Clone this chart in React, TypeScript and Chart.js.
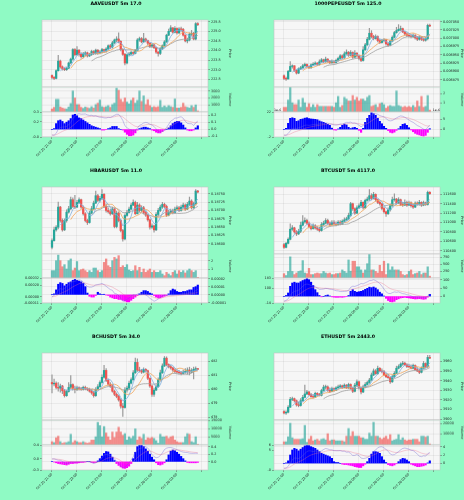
import React, { useEffect, useRef } from 'react';
import { Chart, registerables } from 'chart.js';

Chart.register(...registerables);

// ---------------- data ----------------
const X_TICKS = [0, 12, 24, 36, 48, 60, 72];
const X_LABELS = ['Oct 25 21:00', 'Oct 25 22:00', 'Oct 25 23:00', 'Oct 26 00:00', 'Oct 26 01:00', 'Oct 26 02:00', ''];
const MA_PERIODS = [5, 10, 20];

const AAVE_TITLE = 'AAVEUSDT 5m 17.0';
const AAVE_OPEN0 = 222.70;
const AAVE_CLOSE = [222.60,222.55,222.95,223.45,223.15,223.05,223.00,223.08,223.35,223.55,
224.05,223.78,224.02,223.80,223.68,223.82,223.88,223.72,223.80,223.95,
223.84,224.02,223.88,223.92,224.05,223.98,224.08,224.25,224.18,224.40,
224.55,224.60,224.48,224.05,223.80,223.35,223.78,223.82,223.90,223.85,
224.00,224.55,224.62,224.45,224.60,224.52,224.38,224.20,224.30,224.15,
223.92,223.85,224.10,224.25,224.45,224.80,225.00,225.18,224.95,225.15,
224.92,225.12,225.10,224.80,224.50,224.55,224.85,224.90,224.60,225.40,225.35];
const AAVE_HIGH = [222.74,222.64,223.00,223.75,223.50,223.20,223.10,223.12,223.40,223.60,
224.10,224.10,224.20,224.05,223.88,223.90,223.95,223.92,223.86,224.02,
224.00,224.08,224.05,224.00,224.12,224.08,224.15,224.30,224.32,224.48,
224.60,224.72,224.92,224.52,224.10,223.85,223.82,223.90,223.98,223.95,
224.05,224.62,224.70,224.68,224.90,224.65,224.55,224.42,224.35,224.32,
224.18,223.95,224.15,224.30,224.52,224.85,225.12,225.30,225.20,225.25,
225.18,225.20,225.22,225.15,224.82,224.65,224.92,225.05,224.95,225.45,225.45];
const AAVE_LOW = [222.52,222.48,222.52,222.92,223.08,222.98,222.95,222.96,223.05,223.30,
223.50,223.72,223.75,223.70,223.60,223.62,223.72,223.66,223.68,223.74,
223.78,223.80,223.80,223.82,223.86,223.90,223.92,224.02,224.10,224.12,
224.35,224.45,224.40,223.98,223.75,223.25,223.30,223.70,223.78,223.78,
223.82,223.98,224.48,224.40,224.42,224.45,224.30,224.15,224.15,224.10,
223.85,223.70,223.78,224.05,224.22,224.42,224.78,224.98,224.90,224.92,
224.85,224.88,225.00,224.75,224.45,224.40,224.50,224.78,224.55,224.55,225.30];
const AAVE_VOL = [420,650,1800,1800,700,550,450,420,700,1200,
3000,2000,1050,1050,650,500,700,600,500,750,
550,1050,1250,1700,750,650,750,900,650,1050,
1250,3400,3100,1800,1400,2000,1400,1150,1650,2000,
1250,1650,3000,1500,2300,1050,1750,900,650,750,
650,750,1650,650,850,650,900,750,650,1850,
550,550,650,1250,750,650,550,900,650,1000,150];
const AAVE_HIST = [0,0.01,0.08,0.12,0.13,0.11,0.08,0.10,0.12,0.15,
0.20,0.21,0.19,0.16,0.15,0.13,0.11,0.09,0.07,0.05,
0.04,0.03,0.02,0.01,-0.01,-0.01,-0.005,0.01,0.02,0.04,
0.04,0.04,0.01,0.0,-0.01,-0.04,-0.07,-0.09,-0.09,-0.08,
-0.05,-0.01,0.01,0.02,0.03,0.03,0.02,0.01,-0.01,-0.02,
-0.04,-0.05,-0.05,-0.03,-0.01,0.0,0.02,0.05,0.08,0.10,
0.11,0.11,0.09,0.06,0.02,-0.01,-0.02,-0.02,-0.01,0.02,0.05];

// 1000PEPE prices in units of 1e-6, volume in 1e7, MACD in 1e-6
const PEPE_TITLE = '1000PEPEUSDT 5m 125.0';
const PEPE_OPEN0 = 6887;
const PEPE_CLOSE = [6879,6877,6900,6915,6917,6903,6895,6908,6911,6917,
6921,6915,6911,6920,6922,6925,6921,6929,6935,6929,
6937,6931,6926,6931,6927,6933,6939,6947,6941,6953,
6958,6949,6957,6943,6955,6947,6939,6933,6965,6980,
6997,7015,7005,6999,7005,6993,6987,6993,6995,6983,
6979,6991,7003,7017,7023,7027,7029,7019,7013,7009,
7007,7005,7009,7001,6997,7003,6997,6994,6999,7039,7037];
const PEPE_HIGH = [6890,6883,6903,6930,6920,6917,6905,6911,6915,6921,
6925,6923,6917,6923,6927,6929,6927,6935,6939,6937,
6943,6939,6933,6935,6933,6937,6943,6951,6950,6959,
6965,6960,6963,6959,6963,6957,6949,6943,6975,6985,
7003,7030,7023,7009,7010,7007,6997,6997,6999,6997,
6987,6995,7007,7021,7033,7041,7037,7031,7021,7017,
7015,7011,7013,7011,7005,7007,7005,7001,7003,7043,7043];
const PEPE_LOW = [6875,6873,6877,6899,6910,6900,6892,6893,6905,6909,
6915,6912,6908,6909,6917,6920,6918,6919,6927,6926,
6927,6927,6923,6924,6925,6925,6931,6937,6938,6939,
6951,6945,6947,6939,6941,6943,6935,6929,6931,6963,
6978,6995,7001,6995,6997,6989,6984,6985,6989,6979,
6975,6977,6989,7001,7015,7021,7023,7017,7009,7005,
7003,7001,7002,6997,6993,6994,6993,6991,6991,6995,7035];
const PEPE_VOL = [0.5,0.5,1.3,2.7,1.0,0.8,0.8,1.3,0.5,1.5,
1.0,0.5,0.9,0.5,0.8,0.5,0.8,0.6,0.6,0.6,
0.6,0.6,0.6,0.6,0.5,1.0,1.7,0.5,0.7,1.6,
1.4,1.2,1.2,1.8,1.3,1.6,1.2,1.4,1.4,1.2,
1.6,1.8,0.6,0.7,0.8,0.5,0.9,1.0,0.8,0.4,
0.6,0.7,0.6,0.6,2.3,0.7,0.6,0.5,0.6,0.5,
0.6,0.5,0.7,0.5,1.2,0.6,1.7,0.5,0.6,1.8,0.2];
const PEPE_HIST = [0,0.5,3.0,5.5,5.8,5.5,4.0,4.3,5.0,5.2,
5.6,5.8,5.4,5.2,5.1,5.0,4.8,4.2,3.8,3.5,
3.0,2.5,2.0,0.6,-0.3,-0.4,0.2,1.0,2.0,2.6,
2.2,1.0,0.4,0.8,1.0,0.5,-0.5,-1.5,0.5,3.5,
5.5,7.0,8.3,7.8,7.0,5.5,4.0,2.8,1.5,0.5,
-0.6,-1.5,-1.8,-1.4,-0.5,0.3,1.5,2.5,2.8,2.0,
0.8,-0.3,-1.2,-2.0,-2.5,-2.8,-3.2,-3.4,-3.0,-1.5,0.3];

// HBAR prices in units of 1e-5, volume in 1e7, MACD in 1e-5
const HBAR_TITLE = 'HBARUSDT 5m 11.0';
const HBAR_OPEN0 = 18590;
const HBAR_CLOSE = [18610,18642,18650,18710,18670,18642,18670,18695,18705,18732,
18712,18710,18724,18732,18710,18690,18670,18664,18692,18705,
18722,18744,18730,18736,18748,18712,18700,18696,18690,18704,
18652,18692,18670,18640,18615,18685,18694,18704,18716,18724,
18690,18716,18700,18708,18694,18686,18672,18650,18654,18642,
18688,18700,18710,18718,18712,18686,18694,18698,18694,18704,
18708,18700,18710,18716,18704,18718,18728,18708,18720,18758,18755];
const HBAR_HIGH = [18615,18650,18655,18725,18712,18675,18675,18702,18712,18740,
18738,18745,18730,18738,18734,18714,18694,18674,18698,18712,
18728,18758,18748,18742,18762,18750,18720,18708,18704,18710,
18708,18698,18696,18674,18644,18690,18700,18710,18722,18732,
18728,18724,18720,18714,18712,18698,18690,18674,18660,18656,
18694,18706,18716,18724,18722,18716,18700,18704,18704,18710,
18714,18712,18716,18722,18720,18724,18740,18732,18725,18762,18760];
const HBAR_LOW = [18585,18608,18638,18645,18665,18638,18640,18665,18692,18702,
18708,18705,18708,18720,18706,18686,18666,18658,18662,18690,
18702,18720,18726,18725,18732,18708,18695,18692,18686,18688,
18648,18648,18666,18636,18608,18612,18682,18692,18702,18714,
18688,18690,18696,18696,18690,18682,18668,18644,18646,18635,
18640,18684,18696,18706,18708,18682,18684,18690,18690,18692,
18700,18696,18698,18706,18700,18702,18714,18704,18706,18716,18752];
const HBAR_VOL = [0.85,0.85,2.0,2.65,2.0,1.3,1.54,1.04,2.0,2.2,
0.85,1.15,1.9,0.85,0.96,1.04,0.85,0.65,0.85,0.65,
1.15,1.15,0.85,0.65,0.85,1.8,2.2,1.42,1.23,2.0,
2.38,2.2,2.58,1.23,1.42,1.23,1.54,0.92,0.77,0.85,
1.42,0.85,1.23,0.65,1.04,0.65,0.85,1.04,0.65,0.85,
0.65,0.65,0.85,0.46,0.27,0.65,0.46,0.27,0.65,0.85,
0.46,0.85,0.65,0.85,0.58,0.85,1.04,0.85,0.65,0.85,0.08];
const HBAR_HIST = [0,0.1,0.6,1.3,1.5,1.4,1.1,1.3,1.5,1.6,
1.8,1.9,1.8,1.7,1.6,1.4,1.0,0.2,-0.2,-0.3,
-0.3,-0.1,0.3,0.1,0.0,0.05,-0.05,-0.1,-0.3,-0.4,
-0.5,-0.5,-0.6,-0.6,-0.7,-0.8,-0.9,-0.9,-0.7,-0.5,
-0.3,-0.1,0.1,0.3,0.5,0.5,0.4,0.2,0.1,-0.1,
-0.3,-0.4,-0.4,-0.3,-0.2,-0.1,0.1,0.5,0.7,0.6,
0.4,0.3,0.3,0.4,0.4,0.5,0.6,0.6,0.9,1.0,1.2];

const BTC_TITLE = 'BTCUSDT 5m 4117.0';
const BTC_OPEN0 = 110529;
const BTC_CLOSE = [110471,110557,110643,110857,110886,110800,110757,110814,110943,111014,
111043,110986,110914,110871,110929,110886,110857,110829,110957,110986,
111043,110986,110957,111007,110971,110957,111007,110971,111029,111057,
111079,111150,111400,111293,111200,111314,111357,111429,111314,111471,
111500,111571,111514,111600,111486,111429,111400,111300,111229,111186,
111271,111357,111486,111500,111414,111486,111386,111371,111429,111371,
111421,111357,111329,111414,111393,111429,111371,111421,111386,111643,111614];
const BTC_HIGH = [110557,110579,110671,110971,110936,110900,110829,110857,111007,111150,
111100,111071,111014,110943,110971,110957,110914,110900,111000,111029,
111086,111071,111014,111043,111043,111014,111043,111043,111057,111100,
111114,111200,111429,111414,111314,111357,111400,111471,111443,111500,
111543,111700,111614,111643,111614,111500,111457,111414,111329,111243,
111314,111400,111543,111614,111514,111529,111500,111429,111486,111457,
111457,111443,111386,111443,111443,111471,111443,111457,111436,111671,111657];
const BTC_LOW = [110450,110457,110543,110629,110829,110771,110721,110743,110786,110929,
110986,110957,110886,110843,110857,110857,110829,110800,110814,110936,
110971,110957,110929,110936,110943,110929,110943,110950,110957,111007,
111043,111057,111129,111257,111171,111186,111293,111329,111286,111300,
111457,111471,111486,111500,111457,111400,111371,111271,111200,111129,
111171,111243,111343,111457,111386,111400,111357,111343,111357,111343,
111357,111329,111300,111314,111371,111371,111343,111357,111364,111371,111600];
const BTC_VOL = [160,91,240,775,240,125,182,240,262,638,
182,160,353,125,125,160,182,160,160,240,
182,160,182,125,125,160,160,182,296,240,
182,661,250,615,615,410,410,296,182,296,
524,866,296,296,240,182,467,240,615,125,
524,296,410,296,296,296,240,125,91,125,
240,296,125,160,182,240,125,182,182,410,68];
const BTC_HIST = [0,5,20,60,80,85,80,80,88,95,
100,106,100,85,65,40,22,5,-3,0,
5,8,2,-3,-5,-6,-6,-5,-6,-4,
-2,5,30,40,30,25,28,30,35,42,
48,55,52,56,50,40,25,15,2,-12,
-25,-32,-34,-30,-20,-15,-10,-8,-6,-8,
-10,-12,-14,-16,-15,-14,-16,-18,-16,-5,12];

const BCH_TITLE = 'BCHUSDT 5m 34.0';
const BCH_OPEN0 = 480.47;
const BCH_CLOSE = [480.37,480.42,480.12,480.07,480.22,479.88,479.53,479.83,480.12,480.32,
480.02,479.98,480.10,480.02,479.98,480.12,480.02,479.98,479.85,479.73,
479.53,479.98,480.17,480.47,480.84,481.33,480.62,480.35,480.22,479.85,
479.63,479.48,479.23,478.79,478.69,479.93,480.07,480.42,480.67,481.16,
481.90,481.36,481.31,481.21,481.41,481.31,480.77,480.22,479.63,479.93,
480.17,480.67,481.16,481.65,482.20,481.75,481.60,481.51,481.36,481.26,
481.21,481.16,481.11,481.21,481.26,481.36,481.21,481.31,481.41,481.46,481.41];
const BCH_HIGH = [481.01,480.72,480.52,480.47,480.35,480.27,479.98,479.93,480.47,480.96,
480.37,480.22,480.22,480.17,480.12,480.22,480.22,480.10,480.07,479.98,
479.85,480.10,480.32,480.59,481.01,481.70,481.46,480.72,480.47,480.32,
479.93,479.73,479.58,479.33,478.99,480.10,480.22,480.57,480.81,481.31,
482.20,482.15,481.56,481.41,481.51,481.46,481.36,480.81,480.27,480.07,
480.32,480.81,481.36,481.80,482.32,482.30,481.80,481.70,481.56,481.46,
481.36,481.31,481.26,481.36,481.46,481.51,481.56,481.46,481.56,481.58,481.48];
const BCH_LOW = [479.73,480.22,480.02,479.85,479.78,479.68,479.43,479.48,479.78,480.02,
479.93,479.73,479.88,479.93,479.90,479.93,479.95,479.88,479.78,479.63,
479.43,479.48,479.93,480.12,480.42,480.77,480.52,480.27,480.12,479.78,
479.53,479.38,479.14,478.64,478.05,478.64,479.78,479.98,480.37,480.62,
481.11,481.26,481.21,481.11,481.16,481.21,480.67,480.12,479.48,479.48,
479.88,480.12,480.62,481.11,481.60,481.65,481.51,481.41,481.26,481.16,
481.11,481.06,481.01,481.06,481.11,481.06,481.01,481.16,480.72,481.31,481.38];
const BCH_VOL = [2000,1400,4400,5400,2000,1000,1400,1400,2000,6600,
1400,2600,2000,1400,1400,2000,1400,1000,1400,3000,
3000,5000,14000,12000,5000,11400,7400,5000,3000,8000,
4600,8000,11000,8000,6000,7000,3000,5000,4000,5400,
10000,3000,5000,4000,6600,3000,4400,4000,4600,4000,
2600,1000,6600,5000,5000,5400,4000,5000,5400,3000,
2000,1400,1400,1400,5000,7000,6600,2000,1400,5000,400];
const BCH_HIST = [0,-0.01,-0.03,-0.05,-0.06,-0.07,-0.08,-0.09,-0.07,-0.05,
-0.05,-0.04,-0.04,-0.03,-0.02,-0.02,-0.01,0.0,0.0,-0.02,
-0.03,-0.02,0.02,0.08,0.15,0.22,0.27,0.26,0.20,0.12,
0.03,-0.05,-0.10,-0.14,-0.17,-0.18,-0.16,-0.12,-0.05,0.08,
0.25,0.40,0.44,0.44,0.40,0.34,0.28,0.20,0.12,0.05,
-0.03,-0.08,-0.09,-0.07,-0.03,0.05,0.18,0.28,0.31,0.29,
0.25,0.20,0.14,0.08,0.02,-0.02,-0.03,-0.03,-0.03,-0.03,-0.02];

const ETH_TITLE = 'ETHUSDT 5m 2443.0';
const ETH_OPEN0 = 3907.8;
const ETH_CLOSE = [3906.3,3907.1,3912.3,3920.5,3921.2,3919.1,3914.8,3914.1,3919.1,3922.6,
3926.1,3928.2,3925.4,3923.3,3922.9,3926.8,3925.4,3924.7,3929.6,3933.2,
3933.5,3930.0,3928.9,3931.8,3930.0,3932.5,3933.5,3934.6,3932.8,3935.3,
3932.5,3936.0,3931.8,3928.9,3935.3,3938.8,3932.5,3928.2,3933.5,3936.0,
3938.1,3940.6,3945.9,3950.1,3947.3,3952.9,3950.1,3949.4,3945.9,3944.1,
3943.1,3938.8,3944.1,3947.6,3952.9,3954.7,3957.2,3958.2,3956.5,3954.7,
3954.4,3952.9,3955.8,3951.5,3950.1,3948.7,3952.9,3957.9,3954.7,3964.2,3963.5];
const ETH_HIGH = [3908.8,3908.5,3914.1,3922.6,3922.9,3921.9,3919.8,3917.6,3921.2,3924.7,
3935.3,3930.0,3928.9,3926.8,3925.4,3928.2,3927.5,3926.8,3931.1,3935.3,
3935.3,3934.6,3932.5,3933.2,3932.5,3933.9,3935.3,3936.0,3935.3,3936.7,
3936.0,3937.4,3936.7,3933.2,3937.1,3940.9,3939.5,3933.2,3935.3,3938.1,
3939.5,3942.3,3948.0,3952.2,3951.5,3955.1,3953.6,3952.2,3950.8,3947.6,
3946.6,3944.1,3945.9,3949.4,3955.1,3956.5,3958.6,3960.0,3959.3,3957.9,
3957.2,3956.5,3957.2,3956.5,3953.6,3952.2,3954.4,3960.0,3958.6,3966.4,3966.4];
const ETH_LOW = [3905.3,3904.9,3906.3,3912.0,3919.1,3917.6,3913.4,3912.7,3913.4,3918.3,
3921.9,3925.4,3924.7,3922.6,3921.9,3922.6,3924.0,3924.0,3924.0,3928.9,
3931.1,3928.9,3927.5,3928.2,3928.9,3929.6,3931.8,3932.5,3931.8,3932.5,
3931.8,3931.8,3931.1,3927.5,3928.2,3934.6,3931.1,3926.1,3927.5,3932.5,
3935.3,3937.1,3940.2,3945.2,3946.6,3946.6,3949.4,3948.0,3945.2,3943.1,
3942.3,3937.1,3938.1,3943.1,3947.3,3952.2,3953.6,3955.8,3955.8,3953.6,
3953.6,3952.2,3952.2,3950.8,3949.4,3947.3,3948.0,3952.2,3953.6,3953.6,3962.8];
const ETH_VOL = [2860,2860,7440,20000,6580,5150,5150,5150,5150,5720,
18000,2290,5150,8000,3720,4580,5150,3720,5150,5720,
4580,10300,3720,4580,4580,3720,3720,3720,3720,2860,
8000,15160,8000,12300,8000,8000,8000,6580,6580,5150,
5150,10870,8000,20900,8000,8000,6580,5150,6580,8000,
5150,9440,3720,4580,5150,9440,4580,6580,4580,3720,
4580,4580,5150,5150,5150,2860,8000,8000,7150,8000,860];
const ETH_HIST = [0,0.1,0.6,2.0,3.2,3.6,3.4,3.0,3.4,3.8,
4.2,4.4,4.3,4.0,3.8,3.6,3.2,2.8,2.4,2.2,
2.0,1.8,1.6,1.2,0.4,0.2,0.2,0.0,-0.2,-0.3,
-0.3,-0.4,-0.5,-0.6,-0.8,-0.9,-1.0,-1.0,-0.6,-0.2,
0.4,1.2,2.2,2.8,2.8,2.7,2.4,1.6,0.8,0.2,
-0.3,-0.5,-0.6,-0.4,-0.1,0.4,0.9,1.2,1.1,0.8,
0.4,-0.2,-0.4,-0.6,-0.8,-0.8,-0.7,-0.6,-0.4,0.1,0.6];

// ---------------- styling / layout ----------------
const FONT = 'DejaVu Sans';
const PAGE_BG = '#8ffac4';
const PLOT_BG = '#f6f6f6';
const GRID = 'rgba(0,0,0,0.10)';
const TEXT = '#222222';
const UP = '#26a69a';
const DOWN = '#ef5350';
const UP_VOL = 'rgba(38,166,154,0.65)';
const DOWN_VOL = 'rgba(239,83,80,0.65)';
const WICK = '#9a9a9a';
const MA_COLORS = ['#7fb0e0', '#f2a65a', '#a0a0a0'];
const HIST_POS = '#0000ff';
const HIST_NEG = '#ff00ff';
const MACD_COLOR = 'rgba(110,95,210,0.55)';
const SIGNAL_COLOR = 'rgba(235,110,140,0.5)';

const PANEL_W = 232;
const PANEL_H = 500 / 3;
const PLOT_L = 42;
const RAXIS_W = 24;
const TOP = 20;
const PRICE_H = 67;
const VOL_H = 24.5;
const MACD_H = 25;
const PAD = 5;
const XAXIS_H = 26;
const XMIN = -4.8;
const XMAX = 74.9;

type Fmt = (v: number) => string;
type Cfg = {
  title: string; open0: number;
  close: number[]; high: number[]; low: number[]; vol: number[]; hist: number[];
  price: { min: number; max: number; ticks: number[]; fmt: Fmt };
  volAx: { max: number; ticks: number[]; fmt: Fmt };
  histAx: { min: number; max: number; ticks: number[]; fmt: Fmt; offset?: string };
  lineAx: { fmt: Fmt; offset?: string };
};

const f0: Fmt = v => v.toFixed(0);
const f1: Fmt = v => v.toFixed(1);
const fs: Fmt = v => String(v);

const PANELS: Cfg[] = [
  { title: AAVE_TITLE, open0: AAVE_OPEN0, close: AAVE_CLOSE, high: AAVE_HIGH, low: AAVE_LOW, vol: AAVE_VOL, hist: AAVE_HIST,
    price: { min: 222.10, max: 225.59, ticks: [222.5, 223, 223.5, 224, 224.5, 225, 225.5], fmt: f1 },
    volAx: { max: 3550, ticks: [1000, 2000, 3000], fmt: fs },
    histAx: { min: -0.107, max: 0.242, ticks: [-0.1, 0, 0.1, 0.2], fmt: f1 },
    lineAx: { fmt: f1 } },
  { title: PEPE_TITLE, open0: PEPE_OPEN0, close: PEPE_CLOSE, high: PEPE_HIGH, low: PEPE_LOW, vol: PEPE_VOL, hist: PEPE_HIST,
    price: { min: 6853, max: 7055, ticks: [6875, 6900, 6925, 6950, 6975, 7000, 7025, 7050], fmt: v => (v / 1e6).toFixed(6) },
    volAx: { max: 2.72, ticks: [1, 2], fmt: fs },
    histAx: { min: -3.83, max: 8.67, ticks: [0, 5], fmt: f0, offset: '1e-6' },
    lineAx: { fmt: f0, offset: '1e-6' } },
  { title: HBAR_TITLE, open0: HBAR_OPEN0, close: HBAR_CLOSE, high: HBAR_HIGH, low: HBAR_LOW, vol: HBAR_VOL, hist: HBAR_HIST,
    price: { min: 18570, max: 18770, ticks: [18600, 18625, 18650, 18675, 18700, 18725, 18750], fmt: v => (v / 1e5).toFixed(5) },
    volAx: { max: 2.77, ticks: [1, 2], fmt: fs },
    histAx: { min: -1.04, max: 2.08, ticks: [-1, 0, 1, 2], fmt: v => (v / 1e5).toFixed(5) },
    lineAx: { fmt: v => (v / 1e5).toFixed(5) } },
  { title: BTC_TITLE, open0: BTC_OPEN0, close: BTC_CLOSE, high: BTC_HIGH, low: BTC_LOW, vol: BTC_VOL, hist: BTC_HIST,
    price: { min: 110329, max: 111757, ticks: [110400, 110600, 110800, 111000, 111200, 111400, 111600], fmt: f0 },
    volAx: { max: 880, ticks: [250, 500, 750], fmt: fs },
    histAx: { min: -40, max: 110, ticks: [0, 50, 100], fmt: f0 },
    lineAx: { fmt: f0 } },
  { title: BCH_TITLE, open0: BCH_OPEN0, close: BCH_CLOSE, high: BCH_HIGH, low: BCH_LOW, vol: BCH_VOL, hist: BCH_HIST,
    price: { min: 477.80, max: 482.57, ticks: [478, 479, 480, 481, 482], fmt: f0 },
    volAx: { max: 15400, ticks: [5000, 10000, 15000], fmt: fs },
    histAx: { min: -0.222, max: 0.444, ticks: [0, 0.2, 0.4], fmt: f1 },
    lineAx: { fmt: f1 } },
  { title: ETH_TITLE, open0: ETH_OPEN0, close: ETH_CLOSE, high: ETH_HIGH, low: ETH_LOW, vol: ETH_VOL, hist: ETH_HIST,
    price: { min: 3899, max: 3968.8, ticks: [3900, 3910, 3920, 3930, 3940, 3950, 3960], fmt: f0 },
    volAx: { max: 22900, ticks: [10000, 20000], fmt: fs },
    histAx: { min: -1.6, max: 4.4, ticks: [0, 2, 4], fmt: f0 },
    lineAx: { fmt: f0 } },
];

// ---------------- helpers ----------------
const tickFont = { size: 3.4, family: FONT };

function sma(arr: number[], p: number) {
  return arr.map((_, i) => {
    if (i < p - 1) return null;
    let s = 0;
    for (let k = i - p + 1; k <= i; k++) s += arr[k];
    return s / p;
  });
}
function ema(arr: number[], p: number) {
  const k = 2 / (p + 1);
  const out: number[] = [];
  let prev = arr[0];
  arr.forEach((v, i) => { prev = i === 0 ? v : v * k + prev * (1 - k); out.push(prev); });
  return out;
}

const areaPlugin = {
  id: 'areaPlugin',
  beforeDraw(chart: any) {
    const { ctx, chartArea } = chart;
    if (!chartArea) return;
    ctx.save();
    ctx.fillStyle = PLOT_BG;
    ctx.fillRect(chartArea.left, chartArea.top, chartArea.right - chartArea.left, chartArea.bottom - chartArea.top);
    ctx.restore();
  },
  afterDraw(chart: any) {
    const { ctx, chartArea } = chart;
    if (!chartArea) return;
    ctx.save();
    ctx.strokeStyle = '#c4c4c4';
    ctx.lineWidth = 0.6;
    ctx.strokeRect(chartArea.left, chartArea.top, chartArea.right - chartArea.left, chartArea.bottom - chartArea.top);
    const o = chart.options.plugins.extraText || {};
    ctx.fillStyle = '#000';
    if (o.title) {
      ctx.font = `bold 4.7px "${FONT}"`;
      ctx.textAlign = 'center';
      ctx.textBaseline = 'middle';
      ctx.fillText(o.title, PANEL_W / 2, 3.7);
    }
    ctx.font = `3.2px "${FONT}"`;
    ctx.textBaseline = 'bottom';
    if (o.left) { ctx.textAlign = 'left'; ctx.fillText(o.left, chartArea.left, chartArea.top - 0.5); }
    if (o.right) { ctx.textAlign = 'right'; ctx.fillText(o.right, chartArea.right, chartArea.top - 0.5); }
    ctx.restore();
  },
};

function xAxis(visible: boolean) {
  return {
    type: 'linear', min: XMIN, max: XMAX, offset: false,
    grid: { color: GRID, lineWidth: 0.5, offset: false, drawTicks: visible, tickLength: 2, tickColor: '#555', tickWidth: 0.5 },
    border: { display: false },
    ticks: visible
      ? { display: true, font: { size: 3.3, family: FONT }, color: TEXT, minRotation: 45, maxRotation: 45, autoSkip: false, padding: 0.5,
          callback: (_v: any, i: number) => X_LABELS[i] }
      : { display: false },
    afterBuildTicks: (s: any) => { s.ticks = X_TICKS.map(v => ({ value: v })); },
    afterFit: (s: any) => { s.height = visible ? XAXIS_H : 0; s.paddingLeft = 0; s.paddingRight = 0; },
  };
}

function rightAxis(min: number, max: number, ticks: number[], fmt: Fmt, title?: string) {
  return {
    type: 'linear', position: 'right', min, max,
    grid: { color: GRID, lineWidth: 0.5, drawTicks: true, tickLength: 2, tickColor: '#555', tickWidth: 0.5 },
    border: { display: false },
    ticks: { font: tickFont, color: TEXT, padding: 1, autoSkip: false, callback: (v: any) => fmt(Number(v)) },
    afterBuildTicks: (s: any) => { s.ticks = ticks.map(v => ({ value: v })); },
    afterFit: (s: any) => { s.width = RAXIS_W; s.paddingTop = 0; s.paddingBottom = 0; },
    title: title ? { display: true, text: title, font: { size: 3.4, family: FONT }, color: TEXT, padding: 0 } : { display: false },
  };
}

const baseOpts = {
  responsive: false, animation: false, devicePixelRatio: 1, events: [],
};

function buildCharts(cfg: Cfg, pc: HTMLCanvasElement, vc: HTMLCanvasElement, mc: HTMLCanvasElement) {
  const opens = cfg.close.map((_, i) => (i === 0 ? cfg.open0 : cfg.close[i - 1]));
  const up = cfg.close.map((c, i) => c >= opens[i]);
  const candleColors = up.map(u => (u ? UP : DOWN));

  const maSets = MA_PERIODS.map((p, k) => ({
    type: 'line', order: 0,
    data: sma(cfg.close, p).map((v, i) => ({ x: i, y: v })),
    borderColor: MA_COLORS[k], borderWidth: 0.8, pointRadius: 0, fill: false, tension: 0, spanGaps: false,
  }));

  const price = new Chart(pc, {
    type: 'bar',
    data: {
      datasets: [
        ...maSets,
        { type: 'bar', order: 1, grouped: false, data: cfg.close.map((c, i) => ({ x: i, y: [opens[i], c] })),
          backgroundColor: candleColors, barThickness: 1.6, minBarLength: 0.6, borderWidth: 0 },
        { type: 'bar', order: 2, grouped: false, data: cfg.close.map((_, i) => ({ x: i, y: [cfg.low[i], cfg.high[i]] })),
          backgroundColor: WICK, barThickness: 0.55, borderWidth: 0 },
      ] as any,
    },
    options: {
      ...baseOpts,
      layout: { padding: { left: PLOT_L, right: 0, top: TOP, bottom: PAD } },
      plugins: { legend: { display: false }, tooltip: { enabled: false }, extraText: { title: cfg.title } } as any,
      scales: {
        x: xAxis(false),
        y: rightAxis(cfg.price.min, cfg.price.max, cfg.price.ticks, cfg.price.fmt, 'Price'),
      } as any,
    } as any,
    plugins: [areaPlugin],
  });

  const vol = new Chart(vc, {
    type: 'bar',
    data: {
      datasets: [
        { data: cfg.vol.map((v, i) => ({ x: i, y: v })), backgroundColor: up.map(u => (u ? UP_VOL : DOWN_VOL)),
          barThickness: 1.6, borderWidth: 0, grouped: false },
      ] as any,
    },
    options: {
      ...baseOpts,
      layout: { padding: { left: PLOT_L, right: 0, top: PAD, bottom: PAD } },
      plugins: { legend: { display: false }, tooltip: { enabled: false } },
      scales: {
        x: xAxis(false),
        y: rightAxis(0, cfg.volAx.max, cfg.volAx.ticks, cfg.volAx.fmt, 'Volume'),
      } as any,
    } as any,
    plugins: [areaPlugin],
  });

  const e12 = ema(cfg.close, 12);
  const e26 = ema(cfg.close, 26);
  const macd = e12.map((v, i) => v - e26[i]);
  const signal = ema(macd, 9);
  const all = macd.concat(signal);
  const lo = Math.min(...all);
  const hi = Math.max(...all);
  const r = hi - lo || 1;

  const macdChart = new Chart(mc, {
    type: 'bar',
    data: {
      datasets: [
        { type: 'line', order: 0, yAxisID: 'yl', data: macd.map((v, i) => ({ x: i, y: v })),
          borderColor: MACD_COLOR, borderWidth: 0.7, pointRadius: 0, fill: false, tension: 0 },
        { type: 'line', order: 0, yAxisID: 'yl', data: signal.map((v, i) => ({ x: i, y: v })),
          borderColor: SIGNAL_COLOR, borderWidth: 0.7, pointRadius: 0, fill: false, tension: 0 },
        { type: 'bar', order: 1, yAxisID: 'y', grouped: false, data: cfg.hist.map((v, i) => ({ x: i, y: v })),
          backgroundColor: cfg.hist.map(v => (v >= 0 ? HIST_POS : HIST_NEG)), barThickness: 1.5, borderWidth: 0 },
      ] as any,
    },
    options: {
      ...baseOpts,
      layout: { padding: { left: 0, right: 0, top: PAD, bottom: 2 } },
      plugins: { legend: { display: false }, tooltip: { enabled: false },
        extraText: { left: cfg.lineAx.offset, right: cfg.histAx.offset } } as any,
      scales: {
        x: xAxis(true),
        y: rightAxis(cfg.histAx.min, cfg.histAx.max, cfg.histAx.ticks, cfg.histAx.fmt),
        yl: {
          type: 'linear', position: 'left', min: lo - r * 0.08, max: hi + r * 0.08,
          grid: { drawOnChartArea: false, drawTicks: true, tickLength: 2, tickColor: '#555', tickWidth: 0.5 },
          border: { display: false },
          ticks: { font: tickFont, color: TEXT, padding: 1, maxTicksLimit: 4, callback: (v: any) => cfg.lineAx.fmt(Number(v)) },
          afterFit: (s: any) => { s.width = PLOT_L; s.paddingTop = 0; s.paddingBottom = 0; },
        },
      } as any,
    } as any,
    plugins: [areaPlugin],
  });

  return [price, vol, macdChart];
}

function Panel({ cfg, left, top }: { cfg: Cfg; left: number; top: number }) {
  const pRef = useRef<HTMLCanvasElement>(null);
  const vRef = useRef<HTMLCanvasElement>(null);
  const mRef = useRef<HTMLCanvasElement>(null);
  useEffect(() => {
    if (!pRef.current || !vRef.current || !mRef.current) return;
    const charts = buildCharts(cfg, pRef.current, vRef.current, mRef.current);
    return () => charts.forEach(c => c.destroy());
  }, [cfg]);
  const pH = TOP + PRICE_H + PAD;
  const vTop = TOP + PRICE_H - PAD;
  const vH = VOL_H + 2 * PAD;
  const mTop = TOP + PRICE_H + VOL_H - PAD;
  const mH = PAD + MACD_H + XAXIS_H + 2;
  return (
    <div style={{ position: 'absolute', left, top, width: PANEL_W, height: PANEL_H }}>
      <canvas ref={pRef} width={PANEL_W} height={pH} style={{ position: 'absolute', left: 0, top: 0, width: PANEL_W, height: pH }} />
      <canvas ref={vRef} width={PANEL_W} height={vH} style={{ position: 'absolute', left: 0, top: vTop, width: PANEL_W, height: vH }} />
      <canvas ref={mRef} width={PANEL_W} height={mH} style={{ position: 'absolute', left: 0, top: mTop, width: PANEL_W, height: mH }} />
    </div>
  );
}

export default function App() {
  return (
    <div style={{ position: 'fixed', left: 0, top: 0, width: 464, height: 500, background: PAGE_BG, overflow: 'hidden' }}>
      {PANELS.map((cfg, i) => (
        <Panel key={cfg.title} cfg={cfg} left={(i % 2) * PANEL_W} top={Math.floor(i / 2) * PANEL_H} />
      ))}
    </div>
  );
}
